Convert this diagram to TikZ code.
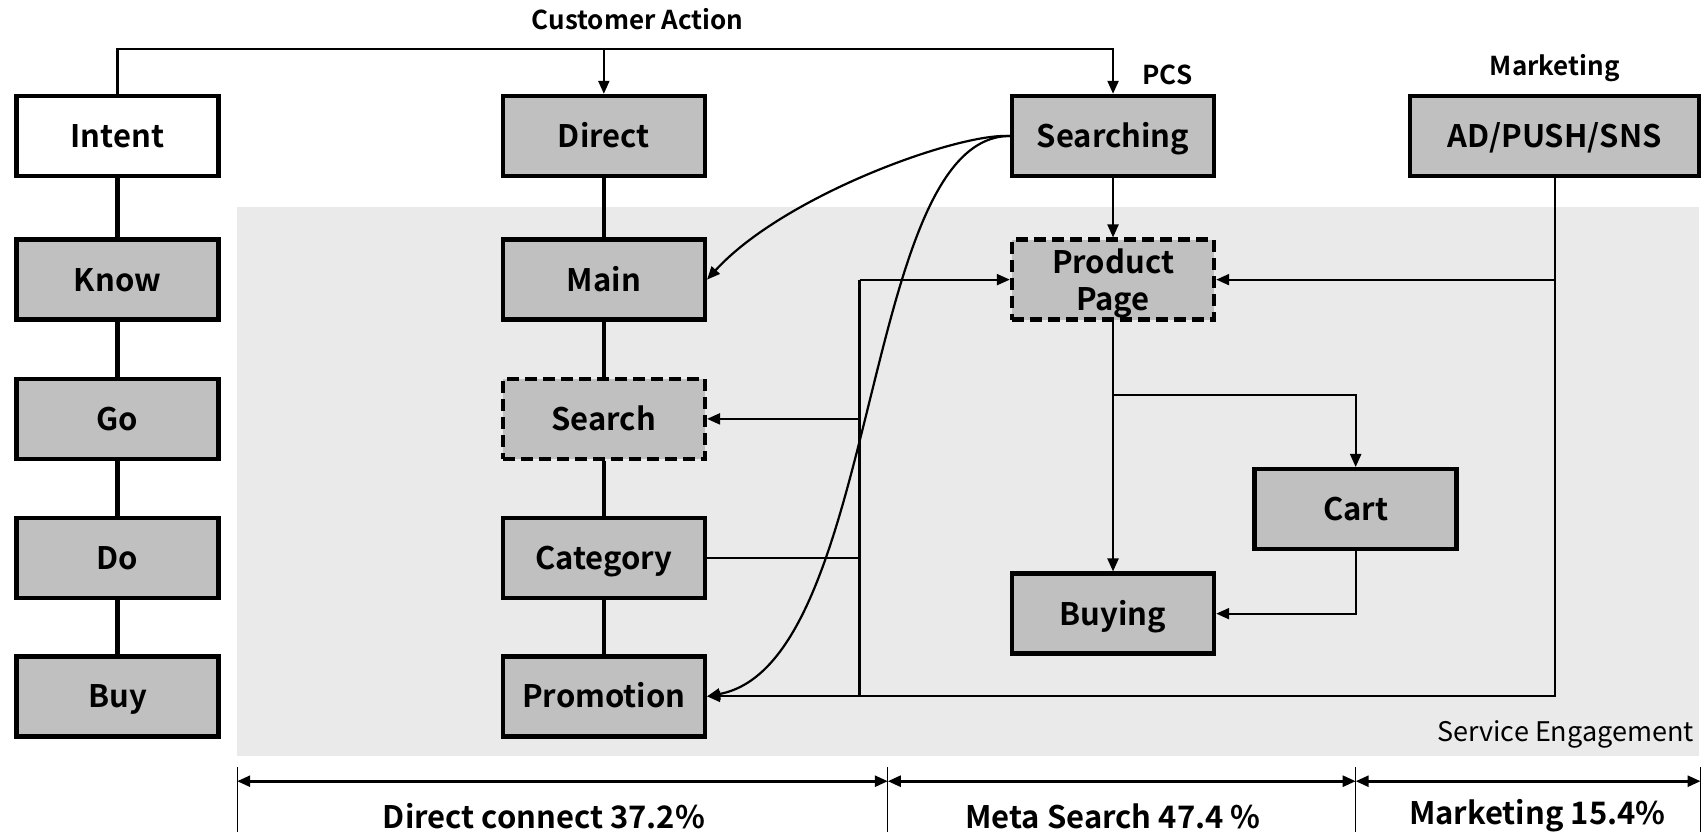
\documentclass[tikz,border=0pt]{standalone}
\usepackage{fontspec}
\setmainfont{Noto Sans CJK KR}[BoldFont={Noto Sans CJK KR Bold}]
\usetikzlibrary{arrows.meta,calc}
\definecolor{boxgray}{HTML}{C0C0C0}
\definecolor{zone}{HTML}{EAEAEA}
\tikzset{
  box/.style={draw, line width=4.4pt, fill=boxgray, minimum width=202pt,
    minimum height=80pt, align=center, inner sep=2pt,
    text height=26pt, text depth=3pt,
    font=\bfseries\fontsize{31}{37}\selectfont},
  openbox/.style={box, fill=white},
  dashbox/.style={box, dash pattern=on 12pt off 6pt},
  link/.style={line width=2.2pt},
  flow/.style={line width=2.2pt, -{Triangle[length=13pt,width=11pt]}},
  spine/.style={line width=5.5pt},
  stem/.style={line width=3.3pt},
  span/.style={line width=2.6pt, {Triangle[length=13pt,width=11pt]}-{Triangle[length=13pt,width=11pt]}},
  tick/.style={line width=1.2pt},
  caption/.style={font=\bfseries\fontsize{26}{28}\selectfont},
  share/.style={font=\bfseries\fontsize{31}{33}\selectfont},
}
\begin{document}
\begin{tikzpicture}[x=1.088pt, y=-1.088pt]
\useasboundingbox (0,0) rectangle (1568,767);
% service engagement zone
\fill[zone] (218,190) rectangle (1562,695);
\node[anchor=east, font=\fontsize{27}{29}\selectfont] (zonelbl) at (1560,675) {Service Engagement};

% intent column
\node[openbox] (intent) at (108,125) {Intent};
\node[box] (know) at (108,257) {Know};
\node[box] (go) at (108,385) {Go};
\node[box] (do) at (108,513) {Do};
\node[box] (buy) at (108,640) {Buy};
\draw[spine] (intent) -- (know) (know) -- (go) (go) -- (do) (do) -- (buy);

% direct connect column
\node[box] (direct) at (555,125) {Direct};
\node[box] (main) at (555,257) {Main};
\node[dashbox] (search) at (555,385) {Search};
\node[box] (category) at (555,513) {Category};
\node[box] (promo) at (555,640) {Promotion};
\draw[stem] (direct) -- (main) (main) -- (search) (search) -- (category) (category) -- (promo);

% meta search column (the two-line label keeps the standard box height)
\node[box] (searching) at (1023,125) {Searching};
\node[dashbox] (product) at (1023,257) {\begin{tabular}{@{}c@{}}Product\\Page\end{tabular}};
\node[box] (buying) at (1023,564) {Buying};
\node[box] (cart) at (1246,468) {Cart};

% marketing
\node[box, minimum width=289pt] (ad) at (1429,125) {AD/PUSH/SNS};

% headings
\node[caption] (custlbl) at (586,18) {Customer Action};
\node[caption] (pcslbl) at (1073,69) {PCS};
\node[caption] (mktlbl) at (1429,63) {Marketing};

% customer action fan-out
\coordinate (top) at (108,45);
\draw[flow] (intent.north) -- (top) -| (searching.north);
\draw[flow] (direct.north |- top) -- (direct.north);

% searching into the direct pages
\draw[flow] (searching.west) .. controls (880,122) and (720,180) .. (main.east);
\draw[flow] (searching.west) .. controls (790,125) and (810,610) .. (promo.east);

% category bus
\coordinate (bus) at (790,0);
\draw[link] (category.east) -- (category.east -| bus);
\draw[link] (product.west -| bus) -- (promo.east -| bus);
\draw[flow] (product.west -| bus) -- (product.west);
\draw[flow] (search.east -| bus) -- (search.east);

% marketing feed
\draw[flow] (ad.south) |- (promo.east);
\draw[flow] (product.east -| ad.south) -- (product.east);

% purchase path
\draw[flow] (searching.south) -- (product.north);
\draw[flow] (product.south) -- (buying.north);
\coordinate (fork) at (1023,363);
\draw[flow] (fork) -| (cart.north);
\draw[flow] (cart.south) |- (buying.east);

% share spans
\coordinate (s0) at (218,718);
\coordinate (s1) at (816,718);
\coordinate (s2) at (1246,718);
\coordinate (s3) at (1563,718);
\foreach \p in {s0,s1,s2,s3} \draw[tick] ($(\p)+(0,-13)$) -- ($(\p)+(0,47)$);
\draw[span] (s0) -- (s1);
\draw[span] (s1) -- (s2);
\draw[span] (s2) -- (s3);
\node[share] (direct share) at (500,750) {Direct connect 37.2\%};
\node[share] (meta share) at (1023,750) {Meta Search 47.4 \%};
\node[share] (mkt share) at (1413,750) {Marketing 15.4\%};
\end{tikzpicture}
\end{document}
